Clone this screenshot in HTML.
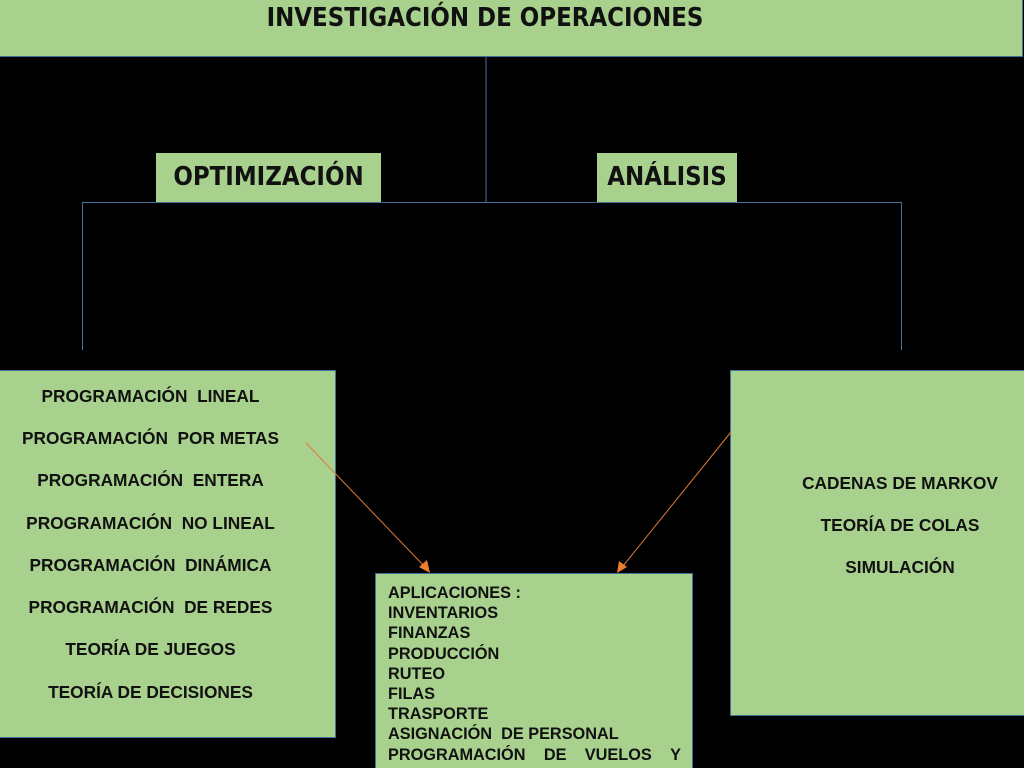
<!DOCTYPE html>
<html><head><meta charset="utf-8"><style>
html{overflow:hidden;height:768px}
body{margin:0;width:1024px;height:768px;background:#000;position:relative;overflow:hidden;font-family:"Liberation Sans",Arial,sans-serif;font-weight:bold;color:#111}
.b{position:absolute;background:#a9d18e;border:1.5px solid #41719c;box-sizing:border-box}
.t{position:absolute;white-space:nowrap}
.c{position:absolute;left:0;width:100%;text-align:center;font-size:17.3px;white-space:nowrap}
.hd{font-family:"DejaVu Sans Condensed","Liberation Sans Narrow","Liberation Sans",sans-serif;font-weight:bold;font-stretch:condensed}
</style></head><body>
<div class="b" style="left:-2px;top:-2px;width:1025px;height:59px"></div>
<div class="t hd" style="left:0;width:970px;text-align:center;top:3px;font-size:25.5px">INVESTIGACIÓN DE OPERACIONES</div>
<div class="b" style="left:156px;top:153px;width:225px;height:50px;border:none"></div>
<div class="t hd" style="left:156px;width:225px;text-align:center;top:162px;font-size:25.5px">OPTIMIZACIÓN</div>
<div class="b" style="left:597px;top:153px;width:140px;height:50px;border:none"></div>
<div class="t hd" style="left:597px;width:140px;text-align:center;top:162px;font-size:25.5px">ANÁLISIS</div>

<div class="b" style="left:-2px;top:370px;width:338px;height:368px">
<div style="position:absolute;left:0;top:0;width:303px;height:100%">
<div class="c" style="top:15px">PROGRAMACIÓN&nbsp; LINEAL</div>
<div class="c" style="top:57px">PROGRAMACIÓN&nbsp; POR METAS</div>
<div class="c" style="top:99px">PROGRAMACIÓN&nbsp; ENTERA</div>
<div class="c" style="top:142px">PROGRAMACIÓN&nbsp; NO LINEAL</div>
<div class="c" style="top:184px">PROGRAMACIÓN&nbsp; DINÁMICA</div>
<div class="c" style="top:226px">PROGRAMACIÓN&nbsp; DE REDES</div>
<div class="c" style="top:268px">TEORÍA DE JUEGOS</div>
<div class="c" style="top:311px">TEORÍA DE DECISIONES</div>
</div>
</div>
<div class="b" style="left:730px;top:370px;width:296px;height:346px">
<div class="c" style="top:102px;left:22px">CADENAS DE MARKOV</div>
<div class="c" style="top:144px;left:22px">TEORÍA DE COLAS</div>
<div class="c" style="top:186px;left:22px">SIMULACIÓN</div>
</div>
<div class="b" style="left:375px;top:573px;width:318px;height:200px;overflow:hidden">
<div style="position:absolute;left:12px;top:9px;font-size:16.3px;line-height:20.2px;width:293px;white-space:nowrap">
APLICACIONES :<br>INVENTARIOS<br>FINANZAS<br>PRODUCCIÓN<br>RUTEO<br>FILAS<br>TRASPORTE<br>ASIGNACIÓN&nbsp; DE PERSONAL<br>
<div style="display:flex;justify-content:space-between"><span>PROGRAMACIÓN</span><span>DE</span><span>VUELOS</span><span>Y</span></div>HORARIOS</div>
</div>
<svg width="1024" height="768" style="position:absolute;left:0;top:0">
<g stroke="#4a6f9a" stroke-width="1" fill="none">
<line x1="486" y1="57" x2="486" y2="203"/>
<polyline points="82.5,350 82.5,202.5 901.5,202.5 901.5,350"/>
</g>
<g stroke="#e07a3a" stroke-width="1">
<line x1="306" y1="443" x2="424" y2="566"/>
<line x1="731" y1="432" x2="623" y2="566"/>
</g>
<polygon points="430,573 419,567 427,560" fill="#ed7d31"/>
<polygon points="617,573 619,561 627,567" fill="#ed7d31"/>
</svg>
</body></html>
